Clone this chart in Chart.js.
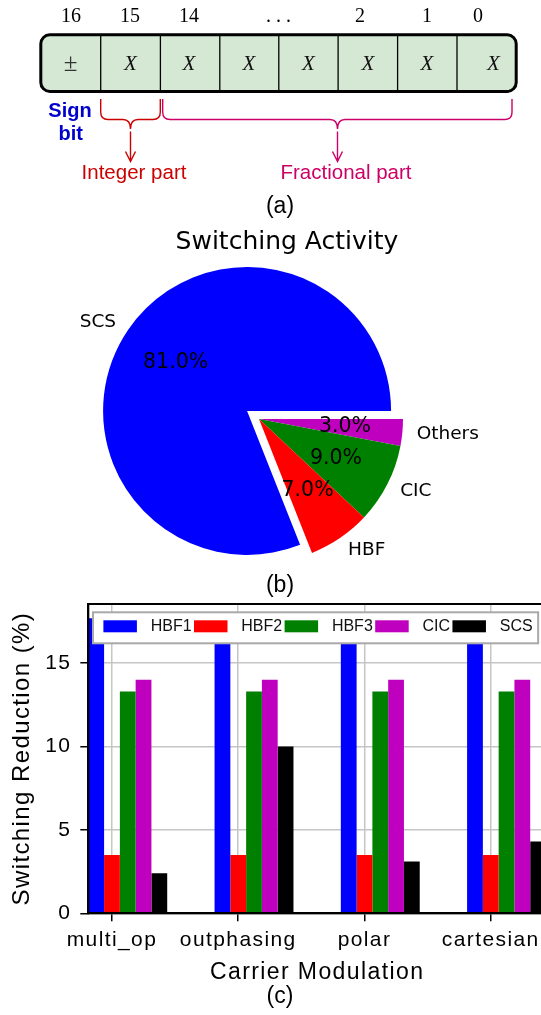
<!DOCTYPE html>
<html>
<head>
<meta charset="utf-8">
<title>Fixed-point format, switching activity and switching reduction</title>
<script src="https://cdn.jsdelivr.net/npm/chart.js@4.4.1/dist/chart.umd.min.js"></script>
<style>
  html, body { margin: 0; padding: 0; background: #fff; }
  body { width: 541px; height: 1015px; overflow: hidden; position: relative; }
  .panel { position: absolute; }
  #overlay { position: absolute; left: 0; top: 0; pointer-events: none; }
</style>
</head>
<body>
<div class="panel" style="left:0;top:255px;width:541px;height:328px"><canvas id="pie"></canvas></div>
<div class="panel" style="left:0;top:580px;width:550px;height:415px"><canvas id="bars"></canvas></div>

<svg id="overlay" width="541" height="1015" xmlns="http://www.w3.org/2000/svg">
  <!-- (a) 17-bit fixed-point word -->
  <g font-family="'Liberation Serif','DejaVu Serif',serif" font-size="20" text-anchor="middle" fill="#000">
    <text x="71" y="22">16</text>
    <text x="130" y="22">15</text>
    <text x="189" y="22">14</text>
    <text x="278.5" y="22">. . .</text>
    <text x="360" y="22">2</text>
    <text x="427" y="22">1</text>
    <text x="478" y="22">0</text>
  </g>
  <rect x="40.8" y="34.8" width="475.4" height="56.6" rx="9" ry="9" fill="#d5e8d4" stroke="#000" stroke-width="3"/>
  <g stroke="#000" stroke-width="1.3">
    <line x1="100.7" y1="36" x2="100.7" y2="90.2"/>
    <line x1="160.4" y1="36" x2="160.4" y2="90.2"/>
    <line x1="219.8" y1="36" x2="219.8" y2="90.2"/>
    <line x1="278.8" y1="36" x2="278.8" y2="90.2"/>
    <line x1="338.1" y1="36" x2="338.1" y2="90.2"/>
    <line x1="397.6" y1="36" x2="397.6" y2="90.2"/>
    <line x1="457" y1="36" x2="457" y2="90.2"/>
  </g>
  <g font-family="'Liberation Serif','DejaVu Serif',serif" font-size="21" text-anchor="middle" fill="#111">
    <text x="70.7" y="71" font-size="25" fill="#333">±</text>
    <g font-style="italic">
      <text x="130.3" y="70">X</text>
      <text x="189" y="70">X</text>
      <text x="248.8" y="70">X</text>
      <text x="308.5" y="70">X</text>
      <text x="368" y="70">X</text>
      <text x="427" y="70">X</text>
      <text x="493.5" y="70">X</text>
    </g>
  </g>
  <g font-family="'Liberation Sans',Arial,sans-serif" font-weight="bold" font-size="20" fill="#0000cc" text-anchor="middle">
    <text x="70" y="116.5">Sign</text>
    <text x="70.8" y="140">bit</text>
  </g>
  <!-- integer part brace -->
  <g fill="none" stroke="#cc0000" stroke-width="1.4">
    <path d="M100.7,99 L100.7,112 Q100.7,119.5 108,119.5 L123,119.5 Q130.5,119.5 130.5,129 Q130.5,119.5 138,119.5 L153,119.5 Q160.3,119.5 160.3,112 L160.3,99"/>
    <path d="M130.5,131.5 L130.5,161.5 M125.5,151.5 L130.5,161.5 L135.5,151.5"/>
  </g>
  <!-- fractional part brace -->
  <g fill="none" stroke="#cc0066" stroke-width="1.4">
    <path d="M162.7,99 L162.7,112 Q162.7,119.5 170,119.5 L330,119.5 Q337.5,119.5 337.5,129 Q337.5,119.5 345,119.5 L505,119.5 Q512,119.5 512,112 L512,99"/>
    <path d="M337.5,131.5 L337.5,161.5 M332.5,151.5 L337.5,161.5 L342.5,151.5"/>
  </g>
  <g font-family="'Liberation Sans',Arial,sans-serif" font-size="20.5" text-anchor="middle">
    <text x="134" y="178.5" fill="#cc0000">Integer part</text>
    <text x="346" y="178.5" fill="#cc0066">Fractional part</text>
  </g>

  <!-- panel captions and pie title -->
  <g font-family="'Liberation Sans',Arial,sans-serif" font-size="23" text-anchor="middle" fill="#000">
    <text x="280" y="212.5">(a)</text>
    <text x="280" y="592">(b)</text>
    <text x="280" y="1002.5">(c)</text>
  </g>
  <text x="287" y="248.5" font-family="'DejaVu Sans',sans-serif" font-size="25" text-anchor="middle" fill="#000">Switching Activity</text>
</svg>

<script>
// ---------- data ----------
// switching activity shares (%)
const pieLabels  = ['SCS', 'HBF', 'CIC', 'Others'];
const pieShares  = [81, 7, 9, 3];
const pieColors  = ['#0000ff', '#ff0000', '#008000', '#bf00bf'];
const pieExplode = [0.1, 0, 0, 0];

// switching reduction (%) per carrier modulation
const carriers     = ['multi_op', 'outphasing', 'polar', 'cartesian'];
const seriesNames  = ['HBF1', 'HBF2', 'HBF3', 'CIC', 'SCS'];
const hbf1Values   = [17.7, 17.7, 17.7, 17.7];
const hbf2Values   = [3.5, 3.5, 3.5, 3.5];
const hbf3Values   = [13.3, 13.3, 13.3, 13.3];
const cicValues    = [14.0, 14.0, 14.0, 14.0];
const scsValues    = [2.4, 10.0, 3.1, 4.3];
const seriesColors = ['#0000ff', '#ff0000', '#008000', '#bf00bf', '#000000'];

// ---------- pie: switching activity ----------
// wedges are listed counter-clockwise from 3 o'clock; Chart.js sweeps clockwise
const cw = pieLabels.map((_, i) => i).reverse();

const explodePlugin = {
  id: 'explode',
  afterDatasetUpdate(chart, args) {
    const ds = chart.data.datasets[args.index];
    args.meta.data.forEach((arc, i) => {
      const f = (ds.explode && ds.explode[i]) || 0;
      if (!f) return;
      const mid = (arc.startAngle + arc.endAngle) / 2;
      arc.x += Math.cos(mid) * f * arc.outerRadius;
      arc.y += Math.sin(mid) * f * arc.outerRadius;
    });
  }
};

const pieTextPlugin = {
  id: 'pieText',
  afterDatasetsDraw(chart) {
    const ctx = chart.ctx;
    const ds = chart.data.datasets[0];
    const total = ds.data.reduce((a, b) => a + b, 0);
    ctx.save();
    ctx.fillStyle = '#000';
    ctx.textBaseline = 'middle';
    chart.getDatasetMeta(0).data.forEach((arc, i) => {
      const mid = (arc.startAngle + arc.endAngle) / 2;
      const c = Math.cos(mid), s = Math.sin(mid), r = arc.outerRadius;
      ctx.font = '18.5px "DejaVu Sans"';
      ctx.textAlign = c >= 0 ? 'left' : 'right';
      ctx.fillText(chart.data.labels[i], arc.x + 1.1 * r * c, arc.y + 1.1 * r * s);
      ctx.font = '20.5px "DejaVu Sans"';
      ctx.textAlign = 'center';
      ctx.fillText((ds.data[i] / total * 100).toFixed(1) + '%', arc.x + 0.6 * r * c, arc.y + 0.6 * r * s);
    });
    ctx.restore();
  }
};

new Chart(document.getElementById('pie'), {
  type: 'pie',
  data: {
    labels: cw.map(i => pieLabels[i]),
    datasets: [{
      data: cw.map(i => pieShares[i]),
      backgroundColor: cw.map(i => pieColors[i]),
      explode: cw.map(i => pieExplode[i]),
      borderWidth: 0,
      hoverOffset: 0
    }]
  },
  options: {
    animation: false,
    responsive: true,
    maintainAspectRatio: false,
    events: [],
    radius: 144,
    rotation: 90,
    layout: { padding: { right: 23 } },
    plugins: { legend: { display: false }, tooltip: { enabled: false } }
  },
  plugins: [explodePlugin, pieTextPlugin]
});

// ---------- bars: switching reduction ----------
const SANS = '"Liberation Sans", Arial, sans-serif';

// the group sits one bar to the right of each tick: two empty slots lead every group
const emptySlot = () => ({ label: '', data: [], backgroundColor: 'rgba(0,0,0,0)', borderWidth: 0 });
const seriesValues = [hbf1Values, hbf2Values, hbf3Values, cicValues, scsValues];
const barDatasets = [emptySlot(), emptySlot()].concat(seriesValues.map((vals, k) => ({
  label: seriesNames[k],
  data: vals.map((v, i) => ({ x: i, y: v })),
  backgroundColor: seriesColors[k],
  borderWidth: 0
})));

const framePlugin = {
  id: 'frame',
  beforeUpdate(chart) { chart.ctx.letterSpacing = '1.4px'; },
  beforeDraw(chart) { chart.ctx.letterSpacing = '1.4px'; },
  afterDatasetsDraw(chart) {
    // legend boxed inside the plot, entries in one row
    const { ctx, chartArea } = chart;
    const items = chart.data.datasets.filter(d => d.label);
    ctx.save();
    ctx.letterSpacing = '0px';
    ctx.font = '16px ' + SANS;
    const patchW = 33.5, patchH = 12, textGap = 13.8, colGap = 2.4, padL = 10.4, padR = 5.5, boxH = 31;
    const widths = items.map(d => ctx.measureText(d.label).width);
    let boxW = padL + padR;
    items.forEach((d, k) => { boxW += patchW + textGap + widths[k] + (k < items.length - 1 ? colGap : 0); });
    const left = chartArea.left + 4.7, top = chartArea.top + 8.3;
    ctx.fillStyle = '#fff';
    ctx.fillRect(left, top, boxW, boxH);
    ctx.strokeStyle = '#a9a9a9';
    ctx.lineWidth = 2;
    ctx.strokeRect(left, top, boxW, boxH);
    const cy = top + 14;
    let x = left + padL;
    ctx.textAlign = 'left';
    ctx.textBaseline = 'middle';
    items.forEach((d, k) => {
      ctx.fillStyle = d.backgroundColor;
      ctx.fillRect(x, cy - patchH / 2, patchW, patchH);
      ctx.fillStyle = '#111';
      ctx.fillText(d.label, x + patchW + textGap, cy + 0.5);
      x += patchW + textGap + widths[k] + colGap;
    });
    ctx.restore();
  },
  afterDraw(chart) {
    const { ctx, chartArea } = chart;
    ctx.save();
    ctx.strokeStyle = '#000';
    ctx.lineWidth = 2;
    ctx.strokeRect(chartArea.left, chartArea.top, chartArea.right - chartArea.left, chartArea.bottom - chartArea.top);
    ctx.restore();
  }
};

const gridStyle = { color: '#c6c6c6', lineWidth: 1.5, tickColor: '#000', tickLength: 8, tickWidth: 1.5, offset: false };

new Chart(document.getElementById('bars'), {
  type: 'bar',
  data: { datasets: barDatasets },
  options: {
    animation: false,
    responsive: true,
    maintainAspectRatio: false,
    events: [],
    layout: { padding: { top: 24, right: 4, left: 0, bottom: 0 } },
    datasets: { bar: { categoryPercentage: 0.875, barPercentage: 1 } },
    plugins: { legend: { display: false }, tooltip: { enabled: false } },
    scales: {
      x: {
        type: 'linear',
        offset: false,
        min: -0.1875,
        max: 3.4375,
        afterFit(scale) { scale.height = 81.7; },
        grid: gridStyle,
        border: { color: '#000', width: 2, z: 1 },
        ticks: {
          stepSize: 1,
          includeBounds: false,
          autoSkip: false,
          maxRotation: 0,
          padding: 6,
          color: '#000',
          font: { family: SANS, size: 21 },
          callback: v => (Number.isInteger(v) && carriers[v] !== undefined ? carriers[v] : '')
        },
        title: { display: true, text: 'Carrier Modulation', color: '#000', font: { family: SANS, size: 23 }, padding: { top: 0, bottom: 9 } }
      },
      y: {
        min: 0,
        max: 18.55,
        afterFit(scale) { scale.width = 88.3; },
        grid: gridStyle,
        border: { color: '#000', width: 2, z: 1 },
        ticks: {
          stepSize: 5,
          includeBounds: false,
          padding: 9,
          color: '#000',
          font: { family: SANS, size: 21 }
        },
        title: { display: true, text: 'Switching Reduction (%)', color: '#000', font: { family: SANS, size: 24 }, padding: { top: 7.6, bottom: 0 } }
      }
    }
  },
  plugins: [framePlugin]
});
</script>
</body>
</html>
